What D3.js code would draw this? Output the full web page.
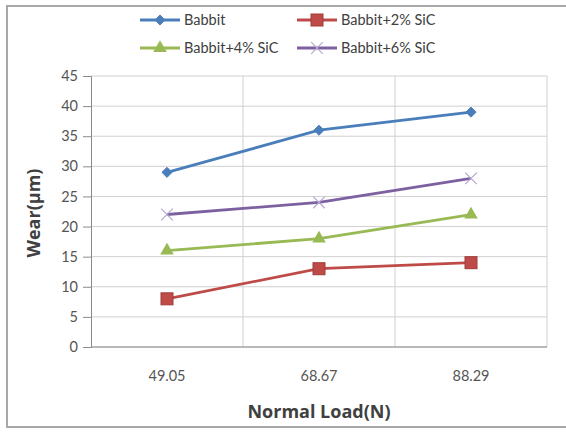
<!DOCTYPE html>
<html><head><meta charset="utf-8">
<script src="https://cdn.jsdelivr.net/npm/d3@7"></script>
<style>body{margin:0;background:#fff}svg{display:block}</style>
</head><body>
<script>
const categories = ["49.05", "68.67", "88.29"];
const seriesNames = ["Babbit", "Babbit+2% SiC", "Babbit+4% SiC", "Babbit+6% SiC"];
const babbit = [29, 36, 39];
const sic2 = [8, 13, 14];
const sic4 = [16, 18, 22];
const sic6 = [22, 24, 28];
const yTicks = [0, 5, 10, 15, 20, 25, 30, 35, 40, 45];
const colors = ["#4A7EBB", "#BE4B48", "#98B954", "#7D60A0"];
const markers = ["diamond", "square", "triangle", "cross"];
const series = [babbit, sic2, sic4, sic6].map((v, i) => ({name: seriesNames[i], values: v, color: colors[i], marker: markers[i]}));

const W = 566, H = 433;
const svg = d3.select("body").append("svg").attr("width", W).attr("height", H);
const font = "Lato, 'Open Sans', sans-serif";
const titleFont = "'Open Sans', Lato, sans-serif";

// outer chart border
svg.append("rect").attr("x", 7).attr("y", 6).attr("width", 580).attr("height", 421)
  .attr("fill", "#fff").attr("stroke", "#a8a8a8").attr("stroke-width", 2);

const L = 91, R = 547, T = 76, B = 347;
const x = d3.scaleBand().domain(categories).range([L, R]);
const y = d3.scaleLinear().domain([0, 45]).range([B, T]);

// horizontal gridlines
svg.append("g").selectAll("line").data(yTicks).join("line")
  .attr("x1", L).attr("x2", R).attr("y1", d => y(d)).attr("y2", d => y(d))
  .attr("stroke", "#d0d0d0").attr("stroke-width", 1);
// vertical gridlines at band boundaries
svg.append("g").selectAll("line").data(categories.slice(1)).join("line")
  .attr("x1", d => x(d)).attr("x2", d => x(d)).attr("y1", T).attr("y2", B)
  .attr("stroke", "#d0d0d0").attr("stroke-width", 1);
// plot area right border
svg.append("line").attr("x1", R).attr("x2", R).attr("y1", T).attr("y2", B).attr("stroke", "#d0d0d0");

// y axis
const yAxis = svg.append("g").attr("transform", `translate(${L},0)`)
  .call(d3.axisLeft(y).tickValues(yTicks).tickSize(8).tickPadding(5));
yAxis.select(".domain").attr("stroke", "#8a8a8a");
yAxis.selectAll(".tick line").attr("stroke", "#8a8a8a");
yAxis.selectAll("text").attr("font-family", font).attr("font-size", 14.5).attr("fill", "#555");

// x axis
const xAxis = svg.append("g").attr("transform", `translate(0,${B})`)
  .call(d3.axisBottom(x).tickSize(0).tickPadding(24));
xAxis.select(".domain").attr("stroke", "#8a8a8a").attr("d", `M${L},0H${R}`);
xAxis.selectAll("text").attr("font-family", font).attr("font-size", 14.5).attr("fill", "#555");

// axis titles
svg.append("text").attr("x", 319).attr("y", 418).attr("text-anchor", "middle")
  .attr("font-family", titleFont).attr("font-weight", "bold").attr("font-size", 18).attr("fill", "#404040")
  .text("Normal Load(N)");
svg.append("text").attr("transform", "translate(40,213) rotate(-90)").attr("text-anchor", "middle")
  .attr("font-family", titleFont).attr("font-weight", "bold").attr("font-size", 18).attr("fill", "#404040")
  .text("Wear(µm)");

const cx = c => x(c) + x.bandwidth() / 2;
function drawMarker(g, type, color, px, py) {
  if (type === "diamond") {
    g.append("path").attr("d", d3.symbol(d3.symbolDiamond2, 65)()).attr("transform", `translate(${px},${py})`).attr("fill", color).attr("stroke", color);
  } else if (type === "square") {
    g.append("rect").attr("x", px - 6).attr("y", py - 6).attr("width", 12).attr("height", 12).attr("fill", color).attr("stroke", "#a03c3a");
  } else if (type === "triangle") {
    g.append("path").attr("d", d3.symbol(d3.symbolTriangle, 80)()).attr("transform", `translate(${px},${py})`).attr("fill", color);
  } else {
    g.append("path").attr("d", d3.symbol(d3.symbolX, 90)()).attr("transform", `translate(${px},${py})`).attr("fill", "none").attr("stroke", "#b4a8cf").attr("stroke-width", 1.2);
  }
}

const line = d3.line().x((d, i) => cx(categories[i])).y(d => y(d));
series.forEach(s => {
  const g = svg.append("g");
  g.append("path").attr("d", line(s.values)).attr("fill", "none").attr("stroke", s.color).attr("stroke-width", 2.8);
  s.values.forEach((v, i) => drawMarker(g, s.marker, s.color, cx(categories[i]), y(v)));
});

// legend
const legendPos = [[140, 20], [297, 20], [140, 48], [297, 48]];
series.forEach((s, i) => {
  const [lx, ly] = legendPos[i];
  const g = svg.append("g");
  g.append("line").attr("x1", lx).attr("x2", lx + 40).attr("y1", ly).attr("y2", ly).attr("stroke", s.color).attr("stroke-width", 2.8);
  drawMarker(g, s.marker, s.color, lx + 20, ly);
  g.append("text").attr("x", lx + 44).attr("y", ly).attr("dy", "0.35em")
    .attr("font-family", font).attr("font-size", 14.5).attr("fill", "#404040").text(s.name);
});
</script>
</body></html>
